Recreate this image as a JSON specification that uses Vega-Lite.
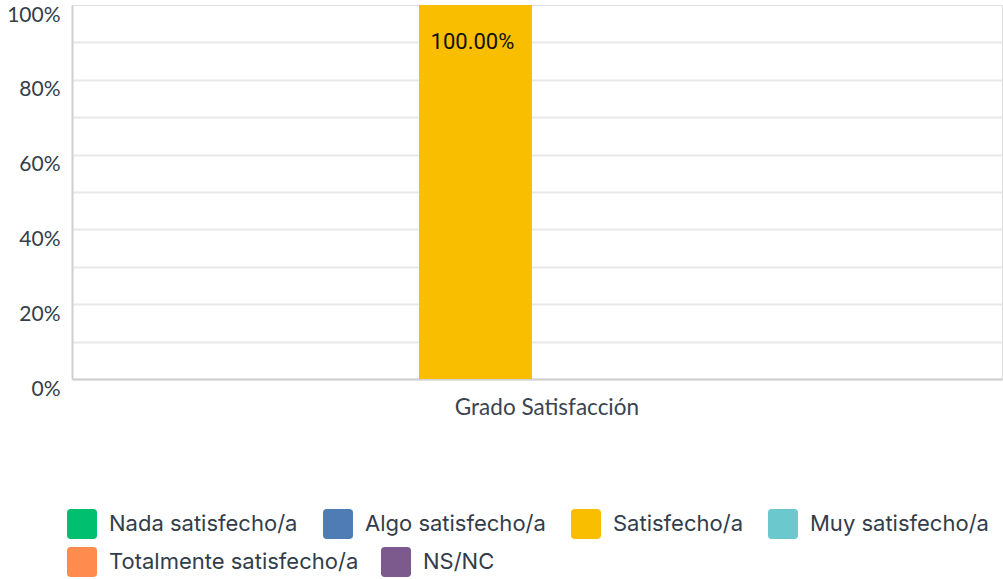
{
  "$schema": "https://vega.github.io/schema/vega-lite/v6.json",
  "autosize": {"type": "none"},
  "width": 930,
  "height": 374,
  "padding": {"left": 72, "top": 5, "right": 1, "bottom": 200},
  "background": "white",
  "data": {
    "values": [
      {"pregunta": "Grado Satisfacción", "respuesta": "Nada satisfecho/a", "valor": 0},
      {"pregunta": "Grado Satisfacción", "respuesta": "Algo satisfecho/a", "valor": 0},
      {"pregunta": "Grado Satisfacción", "respuesta": "Satisfecho/a", "valor": 1},
      {"pregunta": "Grado Satisfacción", "respuesta": "Muy satisfecho/a", "valor": 0},
      {"pregunta": "Grado Satisfacción", "respuesta": "Totalmente satisfecho/a", "valor": 0},
      {"pregunta": "Grado Satisfacción", "respuesta": "NS/NC", "valor": 0}
    ]
  },
  "encoding": {
    "x": {
      "field": "pregunta",
      "type": "nominal",
      "scale": {"paddingInner": 0, "paddingOuter": 0.186, "align": 0.48},
      "axis": {
        "title": null,
        "labelAngle": 0,
        "labelFont": "Lato",
        "labelFontSize": 22.5,
        "labelColor": "#3a4450",
        "labelPadding": 17,
        "labelOffset": 15,
        "labelLimit": 500,
        "ticks": false,
        "domainColor": "#d0d0d0",
        "domainWidth": 2,
        "grid": false
      }
    },
    "xOffset": {
      "field": "respuesta",
      "type": "nominal",
      "scale": {
        "domain": ["Nada satisfecho/a", "Algo satisfecho/a", "Satisfecho/a", "Muy satisfecho/a", "Totalmente satisfecho/a", "NS/NC"],
        "paddingInner": 0, "paddingOuter": 0
      }
    },
    "y": {
      "field": "valor",
      "type": "quantitative",
      "scale": {"domain": [0, 1], "nice": false},
      "axis": {
        "title": null,
        "values": [0, 0.1, 0.2, 0.3, 0.4, 0.5, 0.6, 0.7, 0.8, 0.9, 1],
        "labelExpr": "round(datum.value*10) % 2 == 0 ? format(datum.value, '.0%') : ''",
        "labelFont": "Lato",
        "labelFontSize": 21,
        "labelColor": "#333e48",
        "labelPadding": 12,
        "labelBaseline": "middle",
        "labelOffset": 10,
        "ticks": false,
        "domainColor": "#d0d0d0",
        "domainWidth": 2,
        "gridColor": "#e8e8e8",
        "gridWidth": 2,
        "gridOpacity": {"condition": {"test": "datum.value == 1", "value": 0}, "value": 1}
      }
    }
  },
  "layer": [
    {
      "transform": [{"filter": {"field": "respuesta", "oneOf": ["Nada satisfecho/a", "Algo satisfecho/a", "Satisfecho/a", "Muy satisfecho/a"]}}],
      "mark": {"type": "bar"},
      "encoding": {
        "color": {
          "field": "respuesta",
          "type": "nominal",
          "scale": {
            "domain": ["Nada satisfecho/a", "Algo satisfecho/a", "Satisfecho/a", "Muy satisfecho/a"],
            "range": ["#00bf6f", "#507cb6", "#f9be00", "#6bc8cd"]
          },
          "legend": {
            "title": null,
            "orient": "none",
            "legendX": -5,
            "legendY": 504,
            "direction": "horizontal",
            "columns": 4,
            "padding": 0,
            "symbolType": "M -0.75 -1 L 0.75 -1 Q 1 -1 1 -0.75 L 1 0.75 Q 1 1 0.75 1 L -0.75 1 Q -1 1 -1 0.75 L -1 -0.75 Q -1 -1 -0.75 -1 Z",
            "symbolSize": 900,
            "symbolStrokeWidth": 0,
            "symbolOpacity": 1,
            "labelFont": "Inter",
            "labelFontSize": 22,
            "labelColor": "#333d4a",
            "labelOffset": 12,
            "columnPadding": 25,
            "labelLimit": 400
          }
        }
      }
    },
    {
      "transform": [{"filter": {"field": "respuesta", "oneOf": ["Totalmente satisfecho/a", "NS/NC"]}}],
      "mark": {"type": "bar"},
      "encoding": {
        "fill": {
          "field": "respuesta",
          "type": "nominal",
          "scale": {
            "domain": ["Totalmente satisfecho/a", "NS/NC"],
            "range": ["#ff8b4f", "#7d5a8d"]
          },
          "legend": {
            "title": null,
            "orient": "none",
            "legendX": -5,
            "legendY": 542,
            "direction": "horizontal",
            "columns": 2,
            "padding": 0,
            "symbolType": "M -0.75 -1 L 0.75 -1 Q 1 -1 1 -0.75 L 1 0.75 Q 1 1 0.75 1 L -0.75 1 Q -1 1 -1 0.75 L -1 -0.75 Q -1 -1 -0.75 -1 Z",
            "symbolSize": 900,
            "symbolStrokeWidth": 0,
            "symbolOpacity": 1,
            "labelFont": "Inter",
            "labelFontSize": 22,
            "labelColor": "#333d4a",
            "labelOffset": 12,
            "columnPadding": 22,
            "labelLimit": 400
          }
        }
      }
    },
    {
      "transform": [{"filter": "datum.valor > 0"}],
      "mark": {"type": "text", "baseline": "middle", "dy": 37, "dx": -3, "font": "Roboto", "fontSize": 22, "color": "#111111"},
      "encoding": {
        "text": {"field": "valor", "type": "quantitative", "format": ".2%"}
      }
    }
  ]
}
